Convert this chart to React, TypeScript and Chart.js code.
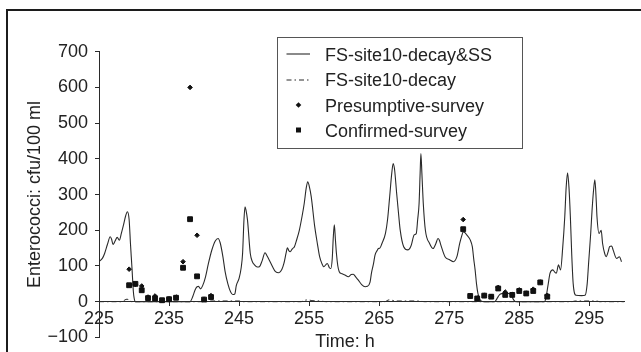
import React, { useEffect, useRef } from 'react';
import { Chart, registerables } from 'chart.js';

Chart.register(...registerables);

// ---------------- data ----------------
const mainTimes = [
  225.0, 225.5, 225.8, 226.2, 226.6, 226.8, 227.0, 227.3, 227.6, 227.9, 228.2, 228.5, 228.8, 229.05, 229.3, 229.5, 229.7, 229.9, 230.0, 230.2,
  234.0, 238.0, 238.4, 238.7, 239.0, 239.2, 239.5, 239.8, 240.2, 240.6, 241.1, 241.6, 242.0, 242.3, 242.7, 243.0, 243.4, 243.8, 244.1, 244.4,
  244.6, 245.0, 245.3, 245.5, 245.7, 245.85, 246.0, 246.2, 246.6, 246.9, 247.2, 247.6, 247.9, 248.3, 248.7, 249.0, 249.3, 249.8, 250.2, 250.7,
  251.1, 251.4, 251.7, 251.9, 252.1, 252.3, 252.6, 252.9, 253.2, 253.6, 254.0, 254.3, 254.6, 254.8, 255.0, 255.3, 255.8, 256.2, 256.5, 256.8,
  257.1, 257.4, 257.6, 257.9, 258.1, 258.3, 258.45, 258.6, 258.75, 258.9, 259.1, 259.3, 259.7, 260.1, 260.6, 261.0, 261.3, 261.7, 262.0, 262.5,
  263.0, 263.3, 263.7, 263.9, 264.2, 264.4, 264.7, 264.9, 265.1, 265.4, 265.9, 266.2, 266.5, 266.8, 267.0, 267.2, 267.5, 267.8, 268.0, 268.5,
  269.1, 269.4, 269.6, 270.0, 270.3, 270.5, 270.7, 270.85, 270.96, 271.1, 271.3, 271.6, 272.2, 272.7, 273.1, 273.4, 273.6, 273.8, 274.4, 275.1,
  275.6, 276.1, 276.5, 276.8, 277.0, 277.3, 277.5, 278.0, 278.3, 278.5, 278.7, 278.9, 279.1, 279.4, 279.9, 281.5, 281.8, 282.2, 282.6, 283.0,
  283.5, 283.8, 284.2, 284.5, 288.6, 288.8, 289.1, 289.4, 289.8, 290.1, 290.3, 290.6, 290.9, 291.2, 291.5, 291.7, 291.9, 292.1, 292.3, 292.5,
  292.7, 293.1, 293.9, 294.4, 294.7, 294.9, 295.2, 295.4, 295.6, 295.8, 296.0, 296.1, 296.4, 296.7, 296.9, 297.2, 297.4, 297.7, 297.9, 298.2,
  298.4, 298.9, 299.3, 299.6,
];
const mainValues = [
  112, 122, 135, 160, 182, 175, 160, 170, 180, 172, 192, 215, 240, 252, 230, 160, 97, 30, 12, 0,
  0, 0, 15, 32, 42, 43, 36, 45, 69, 105, 144, 170, 177, 165, 125, 85, 50, 27, 20, 22,
  45, 65, 95, 135, 230, 266, 255, 229, 135, 112, 103, 97, 98, 115, 137, 128, 117, 97, 84, 81,
  90, 107, 135, 151, 143, 140, 148, 154, 172, 200, 240, 275, 320, 336, 325, 294, 210, 160, 126, 108,
  98, 104, 107, 95, 93, 120, 180, 215, 175, 135, 100, 84, 78, 75, 70, 76, 77, 68, 61, 48,
  42, 43, 55, 80, 107, 130, 143, 149, 150, 163, 191, 230, 294, 360, 387, 370, 303, 240, 201, 154,
  145, 150, 159, 187, 191, 230, 275, 360, 415, 360, 275, 200, 163, 149, 163, 177, 172, 159, 126, 117,
  112, 126, 163, 185, 196, 192, 187, 173, 154, 120, 89, 50, 23, 5, 0, 0, 8, 20, 23, 24,
  23, 20, 5, 0, 0, 10, 45, 80, 89, 82, 80, 103, 89, 150, 238, 320, 361, 320, 238, 130,
  51, 18, 17, 18, 50, 107, 190, 257, 310, 341, 280, 238, 191, 200, 163, 135, 126, 140, 154, 156,
  145, 121, 126, 112,
];

const decayTimes = [225, 228.3, 228.7, 229.0, 229.3, 229.7, 240.5, 241, 245, 245.5, 253.8, 254.4, 254.8, 255.4, 256.5, 257.5, 265.8, 266.4, 266.8, 267.5, 270.5, 271.5, 292.5, 293, 296, 296.5, 300];
const decayValues = [0, 0, 5, 7, 5, 0, 0, 2, 2, 0, 0, 4, 5, 3, 2, 0, 0, 5, 4, 2, 2, 0, 0, 2, 2, 0, 0];

const surveyTimes = [229.3, 230.2, 231.1, 232, 233, 234, 235, 236, 237, 238, 239, 240, 241, 277, 278, 279, 280, 281, 282, 283, 284, 285, 286, 287, 288, 289];
const presumptiveValues = [91, 48, 44, 13, 16, 4, 8, 13, 112, 600, 186, 7, 17, 230, 16, 10, 18, 15, 40, 27, 20, 33, 24, 35, 55, 18];
const confirmedValues = [46, 50, 32, 10, 9, 4, 7, 11, 95, 231, 71, 6, 13, 203, 16, 9, 17, 14, 37, 19, 19, 30, 23, 30, 54, 14];

const seriesLabels = ['FS-site10-decay&SS', 'FS-site10-decay', 'Presumptive-survey', 'Confirmed-survey'];
const xTickValues = [225, 235, 245, 255, 265, 275, 285, 295];
const yTickValues = [-100, 0, 100, 200, 300, 400, 500, 600, 700];
const xTitle = 'Time: h';
const yTitle = 'Enterococci: cfu/100 ml';

// ---------------- styling ----------------
const FONT_FAMILY = '"Liberation Sans", Arial, Helvetica, sans-serif';
const TEXT = '#222222';
const INK = '#2a2a2a';

const pts = (xs: number[], ys: number[]) => xs.map((x, i) => ({ x, y: ys[i] }));

const decorPlugin = {
  id: 'decor',
  afterDraw(chart: any) {
    const { ctx, chartArea } = chart;
    ctx.save();
    // x-axis title
    ctx.font = `18px ${FONT_FAMILY}`;
    ctx.fillStyle = TEXT;
    ctx.textAlign = 'center';
    ctx.textBaseline = 'middle';
    ctx.fillText(xTitle, chartArea.left + 246, 342);

    // legend
    const bx = 277.5, by = 37.5, bw = 245, bh = 111;
    ctx.fillStyle = '#ffffff';
    ctx.fillRect(bx, by, bw, bh);
    ctx.strokeStyle = '#555555';
    ctx.lineWidth = 1;
    ctx.strokeRect(bx, by, bw, bh);

    const ds = chart.data.datasets;
    const rows = [60.7, 86.2, 111.8, 137.3];
    const textX = 325;
    ctx.textAlign = 'left';
    ctx.textBaseline = 'alphabetic';
    ctx.fillStyle = TEXT;
    ds.forEach((d: any, i: number) => {
      ctx.fillText(d.label, textX, rows[i]);
    });
    // sample: solid
    ctx.strokeStyle = INK;
    ctx.lineWidth = 1.1;
    ctx.beginPath();
    ctx.moveTo(286.5, 54);
    ctx.lineTo(310, 54);
    ctx.stroke();
    // sample: dash-dot
    ctx.setLineDash([5, 3, 1.5, 3]);
    ctx.beginPath();
    ctx.moveTo(286.5, 80);
    ctx.lineTo(311, 80);
    ctx.stroke();
    ctx.setLineDash([]);
    // sample: diamond
    ctx.fillStyle = '#111111';
    ctx.beginPath();
    ctx.moveTo(298.5, 102.2);
    ctx.lineTo(301.3, 105);
    ctx.lineTo(298.5, 107.8);
    ctx.lineTo(295.7, 105);
    ctx.closePath();
    ctx.fill();
    // sample: square
    ctx.fillRect(296, 127.5, 5, 5);
    ctx.restore();
  },
};

export default function App() {
  const canvasRef = useRef<HTMLCanvasElement | null>(null);

  useEffect(() => {
    const canvas = canvasRef.current;
    if (!canvas) return;
    Chart.defaults.font.family = FONT_FAMILY;
    const tickFont = { size: 18, family: FONT_FAMILY };

    const chart = new Chart(canvas, {
      type: 'line',
      data: {
        datasets: [
          {
            label: seriesLabels[0],
            data: pts(mainTimes, mainValues),
            borderColor: INK,
            borderWidth: 1.1,
            pointRadius: 0,
            cubicInterpolationMode: 'monotone',
            fill: false,
            order: 3,
          },
          {
            label: seriesLabels[1],
            data: pts(decayTimes, decayValues),
            borderColor: INK,
            borderWidth: 1,
            borderDash: [5, 3, 1.5, 3],
            pointRadius: 0,
            cubicInterpolationMode: 'monotone',
            fill: false,
            order: 2,
          },
          {
            label: seriesLabels[2],
            data: pts(surveyTimes, presumptiveValues),
            showLine: false,
            pointStyle: 'rectRot',
            pointRadius: 2.3,
            pointBackgroundColor: '#111111',
            pointBorderColor: '#111111',
            pointBorderWidth: 1,
            order: 1,
          },
          {
            label: seriesLabels[3],
            data: pts(surveyTimes, confirmedValues),
            showLine: false,
            pointStyle: 'rect',
            pointRadius: 3.4,
            pointBackgroundColor: '#111111',
            pointBorderColor: '#111111',
            pointBorderWidth: 1,
            order: 0,
          },
        ],
      } as any,
      options: {
        animation: false,
        responsive: false,
        maintainAspectRatio: false,
        layout: { padding: { top: 51.7, bottom: 14.6, right: 16.7, left: 0 } },
        plugins: { legend: { display: false }, tooltip: { enabled: false } },
        scales: {
          x: {
            type: 'linear',
            min: 225,
            max: 300,
            position: { y: 0 } as any,
            afterBuildTicks: (s: any) => {
              s.ticks = xTickValues.map((v) => ({ value: v }));
            },
            ticks: { font: tickFont, color: TEXT, padding: 3, maxRotation: 0, autoSkip: false },
            grid: { drawOnChartArea: false, drawTicks: true, tickLength: 4, color: INK },
            border: { display: true, color: INK, width: 1 },
          },
          y: {
            type: 'linear',
            min: -100,
            max: 700,
            afterBuildTicks: (s: any) => {
              s.ticks = yTickValues.map((v) => ({ value: v }));
            },
            afterFit: (s: any) => {
              s.width = 99;
              s.paddingTop = 5;
              s.paddingBottom = 5;
            },
            ticks: {
              font: tickFont,
              color: TEXT,
              padding: 7,
              callback: (v: any) => (Number(v) < 0 ? '\u2212' + Math.abs(Number(v)) : String(v)),
            },
            grid: { drawOnChartArea: false, drawTicks: true, tickLength: 4, color: INK },
            border: { display: true, color: INK, width: 1 },
            title: { display: true, text: yTitle, font: { size: 18, family: FONT_FAMILY }, color: TEXT, padding: { top: 24, bottom: 0 } },
          },
        },
      } as any,
      plugins: [decorPlugin],
    });
    return () => chart.destroy();
  }, []);

  return (
    <div style={{ position: 'fixed', left: 0, top: 0, width: 641, height: 352, background: '#ffffff', overflow: 'hidden' }}>
      <canvas ref={canvasRef} width={641} height={352} style={{ display: 'block', width: 641, height: 352 }} />
      <div
        style={{
          position: 'absolute',
          left: 6,
          top: 8.5,
          width: 650,
          height: 360,
          borderTop: '2.6px solid #1c1c1c',
          borderLeft: '2.6px solid #1c1c1c',
          pointerEvents: 'none',
        }}
      />
    </div>
  );
}
